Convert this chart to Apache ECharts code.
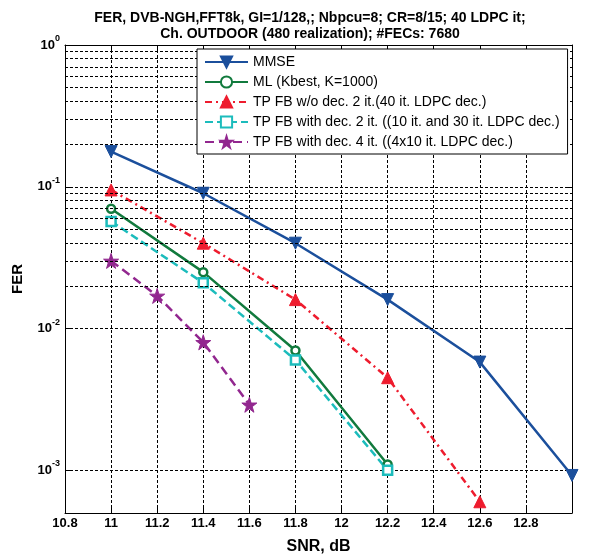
<!DOCTYPE html>
<html>
<head>
<meta charset="utf-8">
<script src="https://cdn.jsdelivr.net/npm/echarts@6/dist/echarts.min.js"></script>
<style>
html,body{margin:0;padding:0;background:#fff;}
#c{width:601px;height:560px;}
</style>
</head>
<body>
<div id="c"></div>
<script>
// ---- data ----
const snrMMSE = [11, 11.4, 11.8, 12.2, 12.6, 13.0];
const ferMMSE = [0.177, 0.09, 0.04, 0.016, 0.0058, 0.00092];
const snrML = [11, 11.4, 11.8, 12.2];
const ferML = [0.07, 0.025, 0.007, 0.0011];
const snrTP2 = [11, 11.4, 11.8, 12.2, 12.6];
const ferTP2 = [0.095, 0.04, 0.016, 0.0045, 0.0006];
const snrTPd2 = [11, 11.4, 11.8, 12.2];
const ferTPd2 = [0.057, 0.021, 0.006, 0.001];
const snrTPd4 = [11, 11.2, 11.4, 11.6];
const ferTPd4 = [0.03, 0.017, 0.008, 0.0029];
const seriesNames = [
  'MMSE',
  'ML (Kbest, K=1000)',
  'TP FB w/o dec. 2 it.(40 it. LDPC dec.)',
  'TP FB with dec. 2 it. ((10 it. and 30 it. LDPC dec.)',
  'TP FB with dec. 4 it. ((4x10 it. LDPC dec.)'
];
const minorGrid = [0.0006, 0.0007, 0.0008, 0.0009,
  0.002, 0.003, 0.004, 0.005, 0.006, 0.007, 0.008, 0.009,
  0.02, 0.03, 0.04, 0.05, 0.06, 0.07, 0.08, 0.09,
  0.2, 0.3, 0.4, 0.5, 0.6, 0.7, 0.8, 0.9];
const titleLines = ['FER, DVB-NGH,FFT8k, GI=1/128,; Nbpcu=8; CR=8/15; 40 LDPC it;',
  'Ch. OUTDOOR (480 realization); #FECs: 7680'];

const FONT = 'Liberation Sans, Arial, sans-serif';
const zip = (xs, ys) => xs.map((x, i) => [x, ys[i]]);
const star = 'path://M50,0 L61,35 L98,35 L68,57 L79,91 L50,70 L21,91 L32,57 L2,35 L39,35 Z';
const dashGrid = {show: true, lineStyle: {color: '#000', width: 1, type: [3, 2]}};

const chart = echarts.init(document.getElementById('c'), null, {renderer: 'canvas'});
chart.setOption({
  backgroundColor: '#fff',
  animation: false,
  title: {
    text: titleLines.join('\n'), left: 305, top: 5, textAlign: 'center',
    textStyle: {fontFamily: FONT, fontSize: 14, fontWeight: 'bold', color: '#000', lineHeight: 16}
  },
  legend: {
    data: seriesNames, orient: 'vertical', left: 197, top: 49, z: 50,
    backgroundColor: '#fff', borderColor: '#000', borderWidth: 1,
    padding: [6, 8, 5, 7], itemGap: 6, itemWidth: 43, itemHeight: 14,
    textStyle: {fontFamily: FONT, fontSize: 14, color: '#000'}
  },
  grid: {left: 65, right: 29, top: 45, bottom: 42, containLabel: false},
  xAxis: [{
    type: 'value', min: 10.8, max: 13.0, interval: 0.2,
    name: 'SNR, dB', nameLocation: 'middle', nameGap: 26,
    nameTextStyle: {fontFamily: FONT, fontSize: 16, fontWeight: 'bold', color: '#000'},
    axisLine: {show: true, onZero: false, lineStyle: {color: '#000', width: 1}},
    axisTick: {show: true, inside: true, length: 5, lineStyle: {color: '#000'}},
    axisLabel: {
      margin: 4, fontFamily: FONT, fontSize: 13, fontWeight: 'bold', color: '#000',
      formatter: v => { const r = Math.round(v * 10) / 10; return r > 12.95 ? '' : String(r); }
    },
    splitLine: dashGrid
  }, {
    type: 'value', position: 'top', min: 10.8, max: 13.0, interval: 0.2,
    axisLine: {show: true, onZero: false, lineStyle: {color: '#000', width: 1}},
    axisTick: {show: true, inside: true, length: 5, lineStyle: {color: '#000'}},
    axisLabel: {show: false}, splitLine: {show: false}
  }],
  yAxis: [{
    type: 'log', logBase: 10, min: 0.0005, max: 1,
    name: 'FER', nameLocation: 'middle', nameGap: 40,
    nameTextStyle: {fontFamily: FONT, fontSize: 15, fontWeight: 'bold', color: '#000'},
    axisLine: {show: true, lineStyle: {color: '#000', width: 1}},
    axisTick: {show: true, inside: true, length: 5, lineStyle: {color: '#000'}},
    axisLabel: {
      margin: 5, showMinLabel: true,
      formatter: v => {
        const e = Math.log10(v);
        if (Math.abs(e - Math.round(e)) > 1e-6) return '';
        return '{b|10}{s|' + Math.round(e) + '}';
      },
      rich: {
        b: {fontFamily: FONT, fontSize: 13, fontWeight: 'bold', color: '#000', lineHeight: 22, verticalAlign: 'middle'},
        s: {fontFamily: FONT, fontSize: 9, fontWeight: 'bold', color: '#000', verticalAlign: 'top', lineHeight: 22}
      }
    },
    splitLine: dashGrid
  }, {
    type: 'log', logBase: 10, min: 0.0005, max: 1, position: 'right',
    axisLine: {show: true, lineStyle: {color: '#000', width: 1}},
    axisTick: {show: true, inside: true, length: 5, lineStyle: {color: '#000'}},
    axisLabel: {show: false}, splitLine: {show: false}
  }],
  series: [
    {
      name: 'minor', type: 'line', data: [], silent: true, z: 1,
      markLine: {
        silent: true, symbol: ['none', 'none'], label: {show: false},
        lineStyle: {color: '#000', width: 1, type: [3, 2]},
        emphasis: {disabled: true},
        data: minorGrid.map(v => ({yAxis: v}))
      }
    },
    {
      name: seriesNames[0], type: 'line', data: zip(snrMMSE, ferMMSE),
      symbol: 'triangle', symbolRotate: 180, symbolSize: 12,
      lineStyle: {color: '#1B4F9C', width: 2.5},
      itemStyle: {color: '#1B4F9C', borderColor: '#1B4F9C', borderWidth: 1}
    },
    {
      name: seriesNames[1], type: 'line', data: zip(snrML, ferML),
      symbol: 'circle', symbolSize: 8,
      lineStyle: {color: '#117A3D', width: 2.5},
      itemStyle: {color: '#fff', borderColor: '#117A3D', borderWidth: 2.5}
    },
    {
      name: seriesNames[2], type: 'line', data: zip(snrTP2, ferTP2),
      symbol: 'triangle', symbolSize: 12,
      lineStyle: {color: '#EE1C2E', width: 2.5, type: [7, 4, 2, 4]},
      itemStyle: {color: '#EE1C2E', borderColor: '#EE1C2E', borderWidth: 1}
    },
    {
      name: seriesNames[3], type: 'line', data: zip(snrTPd2, ferTPd2),
      symbol: 'rect', symbolSize: 9,
      lineStyle: {color: '#1CBCBC', width: 2.5, type: [8, 4]},
      itemStyle: {color: '#fff', borderColor: '#1CBCBC', borderWidth: 2.5}
    },
    {
      name: seriesNames[4], type: 'line', data: zip(snrTPd4, ferTPd4),
      symbol: star, symbolSize: 15,
      lineStyle: {color: '#92278F', width: 2.5, type: [9, 5]},
      itemStyle: {color: '#92278F', borderColor: '#92278F', borderWidth: 1}
    }
  ]
});
</script>
</body>
</html>
